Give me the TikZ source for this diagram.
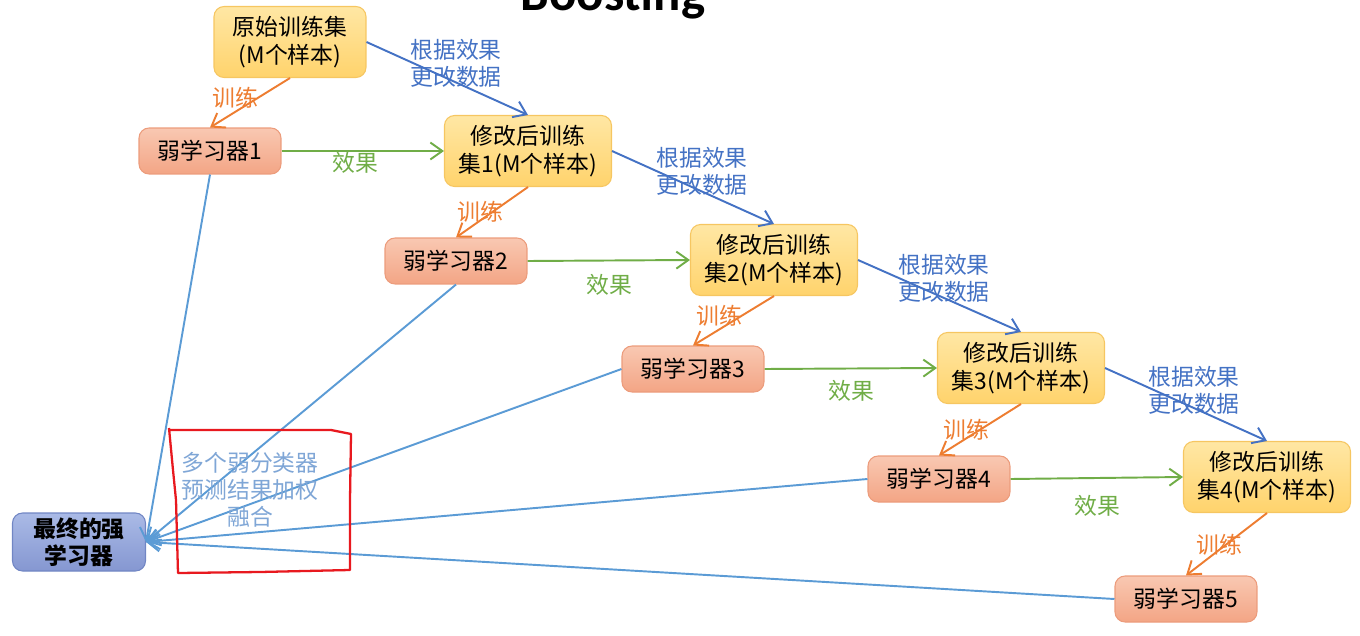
\documentclass[tikz,border=0pt]{standalone}
\usepackage{fontspec}
\setmainfont{Noto Sans CJK SC}
\newfontfamily\titlefont{Carlito}
\usetikzlibrary{arrows.meta}
\definecolor{dataTop}{HTML}{FFE7A4}
\definecolor{dataBot}{HTML}{FFD36C}
\definecolor{dataLine}{HTML}{F6C661}
\definecolor{weakTop}{HTML}{F9C8B2}
\definecolor{weakBot}{HTML}{F3A585}
\definecolor{weakLine}{HTML}{EC9C7C}
\definecolor{finTop}{HTML}{AABAE6}
\definecolor{finBot}{HTML}{8597D1}
\definecolor{finLine}{HTML}{7186C4}
\definecolor{blueEdge}{HTML}{4472C4}
\definecolor{orangeEdge}{HTML}{ED7D31}
\definecolor{greenEdge}{HTML}{70AD47}
\definecolor{fuseEdge}{HTML}{5B9BD5}
\definecolor{fuseText}{HTML}{7FA6D6}
\definecolor{handRed}{HTML}{E8191F}
\tikzset{
	every node/.style={font=\fontsize{13}{15.5}\selectfont, align=center, inner sep=0pt},
	databox/.style={draw=dataLine, line width=0.6pt, rounded corners=0.2cm, top color=dataTop, bottom color=dataBot, minimum width=3.34cm, minimum height=1.42cm},
	weakbox/.style={draw=weakLine, line width=0.6pt, rounded corners=0.2cm, top color=weakTop, bottom color=weakBot, minimum width=2.84cm, minimum height=0.92cm},
	finbox/.style={draw=finLine, line width=0.6pt, rounded corners=0.2cm, top color=finTop, bottom color=finBot, minimum width=2.66cm, minimum height=1.16cm, font=\fontsize{13}{15.5}\selectfont\bfseries},
	edge/.style={line width=1.1pt, -{Straight Barb[length=2.4mm,width=3.4mm]}},
	update/.style={edge, color=blueEdge},
	train/.style={edge, color=orangeEdge},
	effect/.style={edge, color=greenEdge},
	fuse/.style={edge, color=fuseEdge},
}
\begin{document}
\begin{tikzpicture}[x=0.02cm, y=-0.02cm]
			%%%%% START %%%%%
			\useasboundingbox (0, 0) rectangle (1360, 636);
			
			\node[font=\titlefont\fontsize{29}{30}\selectfont\bfseries, anchor=base] (title) at (613, 10) {Boosting};
			
			\node[databox, minimum width=3.04cm] (data0) at (290, 42) {原始训练集\\(M个样本)};
			\node[databox] (data1) at (528, 151) {修改后训练\\集1(M个样本)};
			\node[databox] (data2) at (774, 260) {修改后训练\\集2(M个样本)};
			\node[databox] (data3) at (1021, 368) {修改后训练\\集3(M个样本)};
			\node[databox] (data4) at (1267, 477) {修改后训练\\集4(M个样本)};
			
			\node[weakbox] (weak1) at (210, 151) {弱学习器1};
			\node[weakbox] (weak2) at (456, 261) {弱学习器2};
			\node[weakbox] (weak3) at (693, 369) {弱学习器3};
			\node[weakbox] (weak4) at (939, 479) {弱学习器4};
			\node[weakbox] (weak5) at (1186, 599) {弱学习器5};
			
			\node[finbox] (strong) at (79, 542) {最终的强\\学习器};
			
			% fusion lines
			\draw[fuse] (weak1.south) -- (strong.east);
			\draw[fuse] (weak2.south) -- (strong.east);
			\draw[fuse] (weak3.west) -- (strong.east);
			\draw[fuse] (weak4.west) -- (strong.east);
			\draw[fuse] (weak5.west) -- (strong.east);
			
			% update data
			\draw[update] (data0.east) -- (data1.north);
			\draw[update] (data1.east) -- (data2.north);
			\draw[update] (data2.east) -- (data3.north);
			\draw[update] (data3.east) -- (data4.north);
			\node[text=blueEdge] (upd1) at (456, 63) {根据效果\\更改数据};
			\node[text=blueEdge] (upd2) at (702, 171) {根据效果\\更改数据};
			\node[text=blueEdge] (upd3) at (944, 278) {根据效果\\更改数据};
			\node[text=blueEdge] (upd4) at (1194, 390) {根据效果\\更改数据};
			
			% train
			\draw[train] (data0.south) -- (weak1.north);
			\draw[train] (data1.south) -- (weak2.north);
			\draw[train] (data2.south) -- (weak3.north);
			\draw[train] (data3.south) -- (weak4.north);
			\draw[train] (data4.south) -- (weak5.north);
			\node[text=orangeEdge] (trn1) at (235, 98) {训练};
			\node[text=orangeEdge] (trn2) at (480, 212) {训练};
			\node[text=orangeEdge] (trn3) at (719, 316) {训练};
			\node[text=orangeEdge] (trn4) at (966, 430) {训练};
			\node[text=orangeEdge] (trn5) at (1219, 545) {训练};
			
			% effect
			\draw[effect] (weak1.east) -- (data1.west);
			\draw[effect] (weak2.east) -- (data2.west);
			\draw[effect] (weak3.east) -- (data3.west);
			\draw[effect] (weak4.east) -- (data4.west);
			\node[text=greenEdge] (eff1) at (355, 163) {效果};
			\node[text=greenEdge] (eff2) at (609, 285) {效果};
			\node[text=greenEdge] (eff3) at (851, 391) {效果};
			\node[text=greenEdge] (eff4) at (1097, 506) {效果};
			
			% hand drawn mark
			\draw[handRed, line width=1.3pt, line join=round] (169, 428) -- (173, 470) -- (176, 500) -- (178, 573) -- (260, 572) -- (350, 570) -- (350, 500) -- (351, 434) -- (331, 430) -- (250, 430) -- (170, 430);
			\node[text=fuseText] (fusetext) at (250, 490) {多个弱分类器\\预测结果加权\\融合};
			
			%%%%% END %%%%%
\end{tikzpicture}
\end{document}
